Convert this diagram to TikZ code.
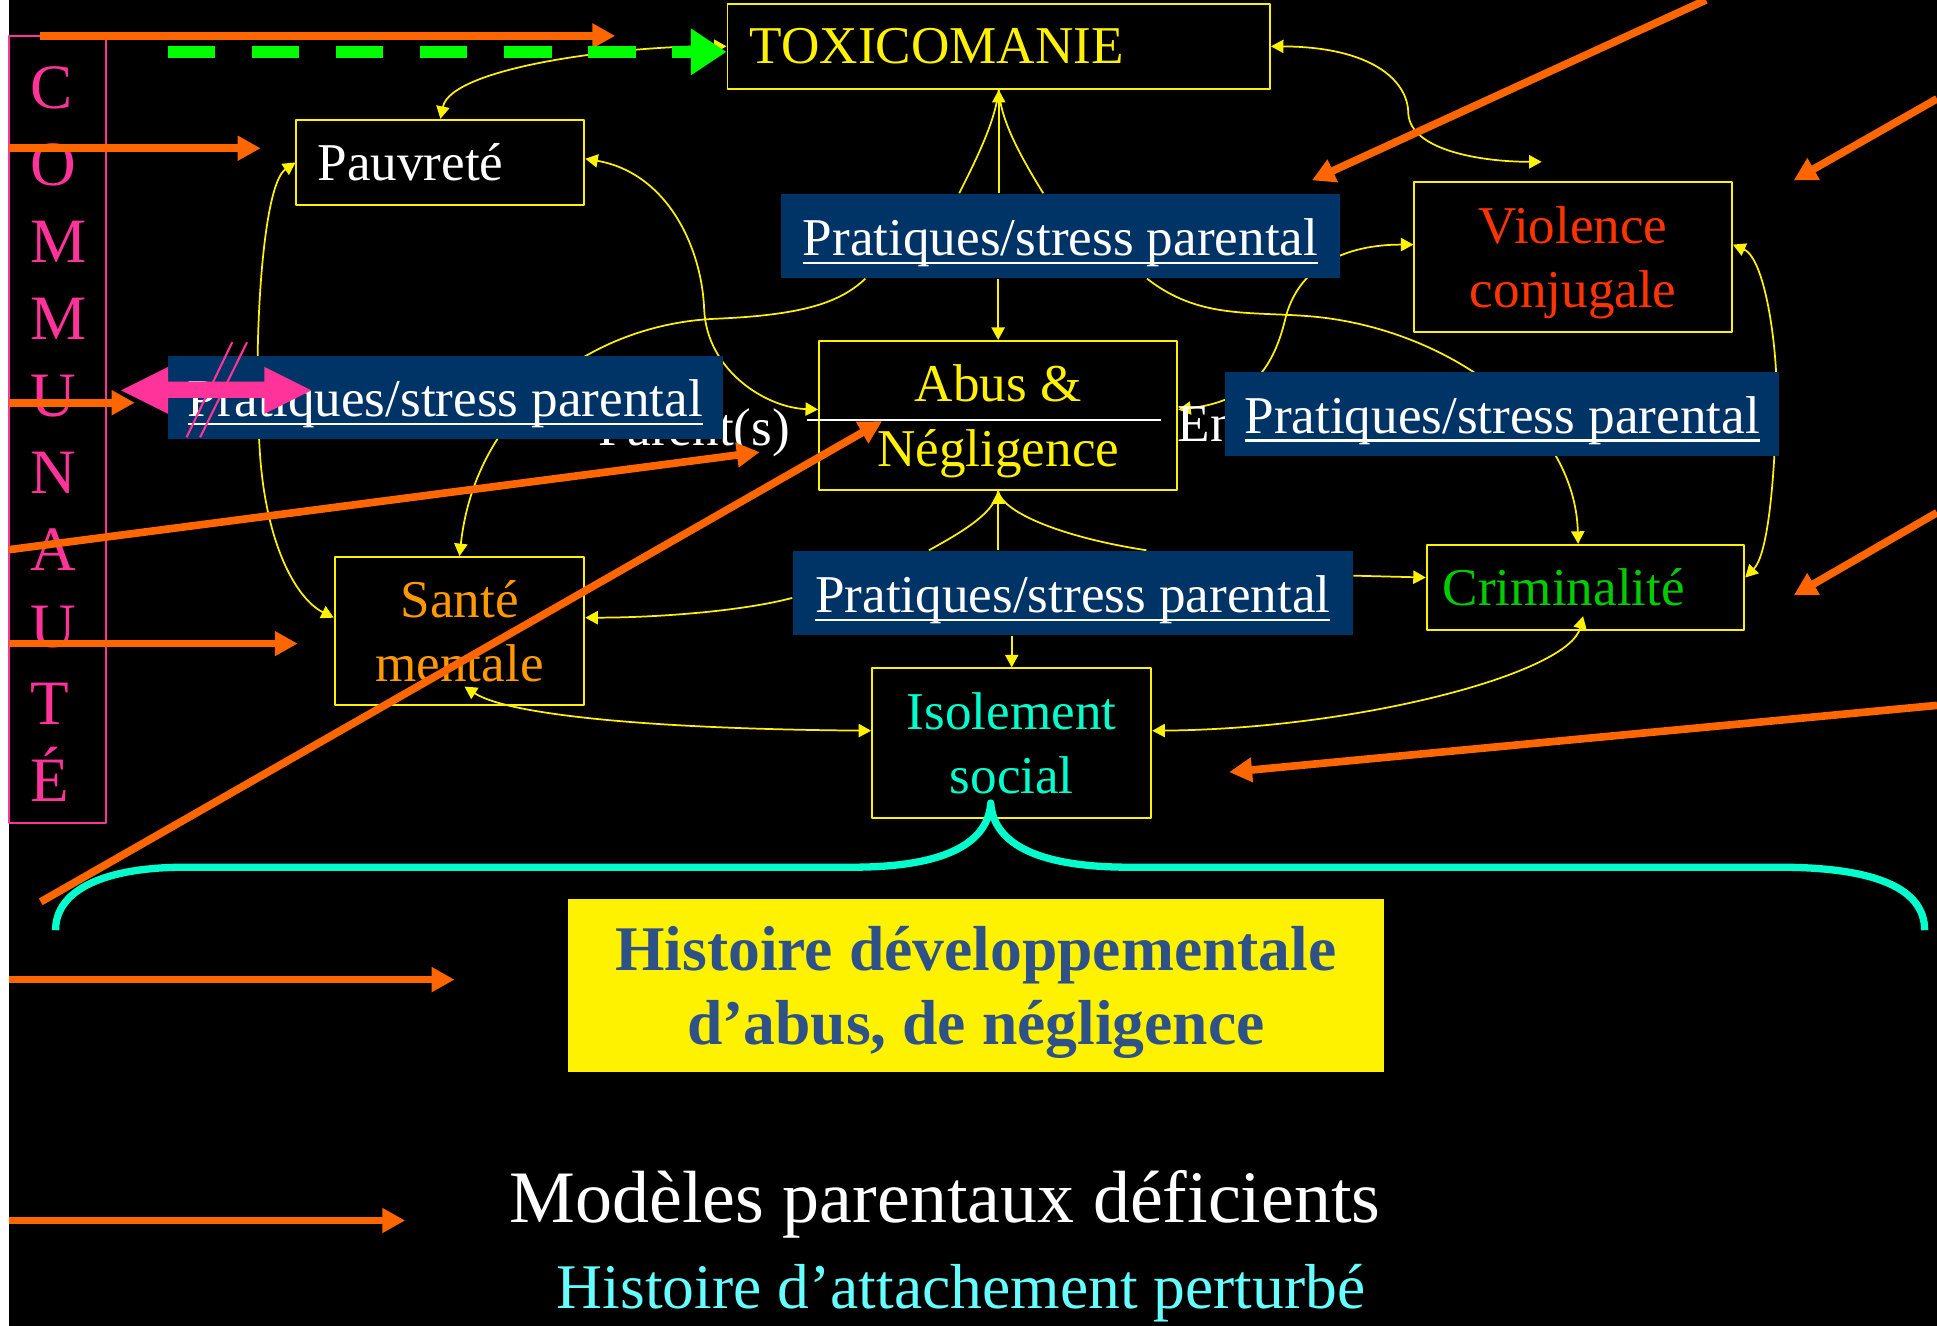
\documentclass[tikz,border=0pt]{standalone}
\usepackage{fontspec}
\setmainfont{Liberation Serif}
\usetikzlibrary{arrows.meta}

\definecolor{orangef}{HTML}{FF6600}
\definecolor{rosec}{HTML}{FF3399}
\definecolor{bleup}{HTML}{003366}
\definecolor{vertd}{HTML}{00FF00}
\definecolor{rougev}{HTML}{FF3300}
\definecolor{oranges}{HTML}{FF9900}
\definecolor{vertc}{HTML}{00CC00}
\definecolor{cyani}{HTML}{00FFCC}
\definecolor{bleuh}{HTML}{2E5288}
\definecolor{cyana}{HTML}{66FFFF}

\newcommand{\texte}{\fontsize{15.3}{18.5}\selectfont}
\newcommand{\souligne}[1]{\setbox0\hbox{#1}\rlap{\rule[-0.16em]{\wd0}{0.05em}}\box0}

\pgfdeclarelayer{fond}
\pgfdeclarelayer{liens}
\pgfsetlayers{fond,liens,main}

\begin{document}
\begin{tikzpicture}[x=0.0125cm, y=-0.0125cm, line join=round,
  boite/.style 2 args={draw=yellow, line width=0.55pt, inner sep=0pt, minimum width=#1, minimum height=#2, align=center, text depth=0pt, font=\texte},
  pratique/.style 2 args={fill=bleup, text=white, inner sep=0pt, minimum width=#1, minimum height=#2, text height=11.4pt, text depth=0pt, font=\texte},
  trait/.style={yellow, line width=0.5pt},
  lien/.style={trait, -{Triangle[length=3.6pt,width=3.8pt]}},
  lienx/.style={trait, {Triangle[length=3.6pt,width=3.8pt]}-{Triangle[length=3.6pt,width=3.8pt]}},
  fleche/.style={orangef, line width=2.2pt, -{Triangle[length=6.6pt,width=6.8pt]}}]
	\useasboundingbox (0,0) rectangle (1568,1073);
	\begin{pgfonlayer}{fond}
		\fill[black] (0,0) rectangle (1568,1073);
		\fill[white] (0,0) rectangle (7,1073);
	\end{pgfonlayer}

	% Boites
	\node[boite={5.4875cm}{0.8625cm}, text=yellow, align=left, text width=5.0375cm, inner xsep=0.225cm] (toxico) at (808.5,37.5) {TOXICOMANIE};
	\node[boite={2.9125cm}{0.8625cm}, text=white, align=left, text width=2.4875cm, inner xsep=0.2125cm] (pauvre) at (356.5,131.5) {Pauvreté};
	\node[boite={3.2125cm}{1.525cm}, text=rougev] (violence) at (1273.5,208) {Violence\\conjugale};
	\node[boite={3.625cm}{1.5125cm}, text=yellow] (abus) at (808,336.5) {Abus \&\\Négligence};
	\node[boite={2.525cm}{1.5cm}, text=oranges] (sante) at (372,511) {Santé\\mentale};
	\node[boite={3.2125cm}{0.8625cm}, text=vertc, align=left, text width=2.8875cm, inner xsep=0.1625cm] (crim) at (1283.5,475.5) {Criminalité};
	\node[boite={2.825cm}{1.5125cm}, text=cyani] (isol) at (819,601.5) {Isolement\\social};
	\draw[white, line width=0.6pt] (653,340) -- (940,340);

	% Parent(s) / Enfant(s)
	\node[text=white, font=\texte, anchor=base east, inner sep=0pt] (parent) at (640,361) {Parent(s)};
	\node[text=white, font=\texte, anchor=base west, inner sep=0pt] (enfant) at (953,357) {Enfant(s)};

	% Pratiques
	\node[pratique={5.6625cm}{0.85cm}] (prh) at (858.5,191) {\souligne{Pratiques/stress parental}};
	\node[pratique={5.6125cm}{0.8375cm}] (prg) at (360.5,321.5) {\souligne{Pratiques/stress parental}};
	\node[pratique={5.6cm}{0.85cm}] (prd) at (1216,335) {\souligne{Pratiques/stress parental}};
	\node[pratique={5.6625cm}{0.85cm}] (prb) at (868.5,480) {\souligne{Pratiques/stress parental}};

	% Liens jaunes
	\begin{pgfonlayer}{liens}
		\coordinate (cv) at (1248,131);
		\draw[lienx] (toxico.west) .. controls (500,37) and (365,55) .. (pauvre.north);
		\draw[lienx] (toxico.east) .. controls (1110,38) and (1140,65) .. (1140,92) .. controls (1142,122) and (1200,131) .. (cv);
		\draw[lien] (prh.north -| toxico.south) -- (toxico.south);
		\draw[trait] ([shift={(-82,0)}]prh.north) .. controls (795,120) and (806,95) .. (toxico.south);
		\draw[trait] ([shift={(-14,0)}]prh.north) .. controls (822,120) and (810,95) .. (toxico.south);
		\draw[lien] (prh.south -| abus.north) -- (abus.north);
		\draw[lien] (prb.north -| abus.south) -- (abus.south);
		\draw[trait] ([shift={(-116.5,0)}]prb.north) .. controls (780,430) and (805,415) .. (abus.south);
		\draw[trait] ([shift={(59.5,0)}]prb.north) .. controls (860,435) and (812,415) .. (abus.south);
		\draw[lien] (prb.south -| isol.north) -- (isol.north);
		\draw[lien] ([shift={(0,-14)}]prb.east) -- ([shift={(0,-8)}]crim.west);
		\draw[lien] ([shift={(0,4)}]prb.west) .. controls (600,495) and (530,500) .. ([shift={(0,-11)}]sante.east);
		\draw[lienx] ([shift={(4,-16)}]sante.south) .. controls (410,578) and (520,590) .. ([shift={(0,-10)}]isol.west);
		\draw[lienx] ([shift={(-2,-12)}]crim.south) .. controls (1270,545) and (1100,590) .. ([shift={(0,-10)}]isol.east);
		\draw[lienx] (pauvre.west) .. controls (212,150) and (205,280) .. (210,360) .. controls (214,440) and (240,485) .. ([shift={(0,-11)}]sante.west);
		\draw[lienx] ([shift={(0,-3)}]pauvre.east) .. controls (540,140) and (568,200) .. (570,250) .. controls (572,300) and (620,330) .. ([shift={(0,-5)}]abus.west);
		\draw[lien] ([shift={(-158,0)}]prh.south) .. controls (680,245) and (650,255) .. (580,258) .. controls (480,262) and (385,330) .. (sante.north);
		\draw[lien] ([shift={(70,0)}]prh.south) .. controls (970,258) and (1010,252) .. (1060,256) .. controls (1170,265) and (1275,340) .. ([shift={(-6,0)}]crim.north);
		\draw[lienx] ([shift={(0,-5)}]abus.east) .. controls (1010,325) and (1030,300) .. (1040,260) .. controls (1050,215) and (1090,198) .. ([shift={(0,-10)}]violence.west);
		\draw[lienx] ([shift={(0,-10)}]violence.east) .. controls (1430,210) and (1440,290) .. (1438,330) .. controls (1436,400) and (1430,450) .. ([shift={(0,-8)}]crim.east);
	\end{pgfonlayer}

	% Communauté
	\draw[rosec, line width=0.6pt] (7,29) rectangle (86,666);
	\foreach \lettre [count=\i from 0] in {C,O,M,M,U,N,A,U,T,É}
		\node[text=rosec, font=\fontsize{18.2}{20}\selectfont, anchor=base west, inner sep=0pt] (c\i) at (24,{88+62.3*\i}) {\lettre};

	% Accolade et histoire
	\draw[cyani, line width=2.1pt] (45,753) .. controls (45,720) and (85,702) .. (150,702) -- (690,702) .. controls (770,702) and (800,680) .. (802,650)
		.. controls (804,680) and (834,702) .. (914,702) -- (1440,702) .. controls (1520,702) and (1558,720) .. (1558,753);
	\node[fill=yellow, minimum width=8.25cm, minimum height=1.75cm, inner sep=0pt, align=center, text depth=0pt, text=bleuh, font=\bfseries\fontsize{18.3}{21.3}\selectfont] (histoire) at (790,798) {Histoire développementale\\d’abus, de négligence};
	\node[text=white, font=\fontsize{21.3}{24}\selectfont, inner sep=0pt] (modeles) at (765,975) {Modèles parentaux déficients};
	\node[text=cyana, font=\fontsize{18.3}{21}\selectfont, inner sep=0pt] (attache) at (778,1047) {Histoire d’attachement perturbé};

	% Double fleche rose
	\fill[rosec] (98,316) -- (136,297) -- (136,309) -- (214,309) -- (214,297) -- (252,316) -- (214,335) -- (214,322) -- (136,322) -- (136,335) -- cycle;

	% Fleches oranges
	\draw[fleche] (32,29) -- (498,29); \draw[fleche] (7,120) -- (211,120); \draw[fleche] (7,326) -- (109,326);
	\draw[fleche] (7,445) -- (615,366); \draw[fleche] (7,521) -- (241,521); \draw[fleche] (33,730) -- (714,341);
	\draw[fleche] (7,793) -- (368,793); \draw[fleche] (7,988) -- (328,988);
	\draw[fleche] (1381,0) -- (1062,146); \draw[fleche] (1568,80) -- (1452,146);
	\draw[fleche] (1568,415) -- (1452,482); \draw[fleche] (1568,571) -- (995,625);

	% Fleche verte
	\coordinate (vert) at (136,42);
	\draw[vertd, line width=3.4pt, dash pattern=on 13.6pt off 10.6pt, -{Triangle[length=10.3pt,width=12.8pt]}] (vert) -- (vert -| toxico.west);

	% Barres roses
	\draw[rosec, line width=0.6pt] (188,277) -- (151,354); \draw[rosec, line width=0.6pt] (200,277) -- (162,354);
\end{tikzpicture}
\end{document}
